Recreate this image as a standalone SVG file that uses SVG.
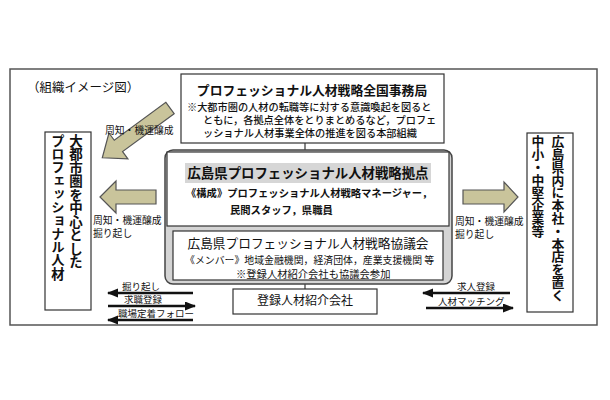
<svg xmlns="http://www.w3.org/2000/svg" width="610" height="400" viewBox="0 0 610 400">
<defs>
<style>
text{font-family:"Noto Sans CJK JP","Liberation Sans",sans-serif;fill:#111}
.b{font-weight:bold}
.box{fill:#fff;stroke:#333;stroke-width:1.2}
.fat{fill:#c9c49b;stroke:#555;stroke-width:1.2}
.thin{stroke:#111;stroke-width:2.5;fill:none}
.conn{stroke:#333;stroke-width:1.2}
.vt{writing-mode:vertical-rl;font-weight:bold;dominant-baseline:central}
</style>
<marker id="ah" markerUnits="userSpaceOnUse" markerWidth="11" markerHeight="10" refX="10" refY="4.5" orient="auto">
<path d="M0,0 L11,4.5 L0,9 z" fill="#111"/>
</marker>
</defs>
<rect width="610" height="400" fill="#fff"/>
<rect x="10" y="69" width="587" height="256" fill="none" stroke="#555" stroke-width="1.5"/>
<text x="27" y="92" font-size="12.5">（組織イメージ図）</text>

<g id="connectors">
<line class="conn" x1="305" y1="143" x2="305" y2="152"/>
<line class="conn" x1="305" y1="280" x2="305" y2="289"/>
<path class="fat" d="M0,-7 L64,-7 L64,-16 L84,0 L64,16 L64,7 L0,7 Z" transform="translate(170,108) rotate(143.7)"/>
<path class="fat" d="M100,197 L116,181 L116,190 L156,190 L156,204 L116,204 L116,213 Z"/>
<path class="fat" d="M463,190 L504,190 L504,182 L518,197 L504,212 L504,204 L463,204 Z"/>
<line class="thin" x1="193" y1="293" x2="108" y2="293" marker-end="url(#ah)"/>
<line class="thin" x1="108" y1="306" x2="195" y2="306" marker-end="url(#ah)"/>
<line class="thin" x1="193" y1="320" x2="108" y2="320" marker-end="url(#ah)"/>
<line class="thin" x1="510" y1="293" x2="423" y2="293" marker-end="url(#ah)"/>
<line class="thin" x1="426" y1="308" x2="513" y2="308" marker-end="url(#ah)"/>
</g>

<g id="labels">
<text x="105" y="134" font-size="9.8">周知・機運醸成</text>
<text x="93" y="224" font-size="9.8">周知・機運醸成・</text>
<text x="93" y="237" font-size="9.8">掘り起し</text>
<text x="455" y="225" font-size="9.8">周知・機運醸成・</text>
<text x="455" y="238" font-size="9.8">掘り起し</text>
<text x="122" y="290" font-size="9.5">掘り起し</text>
<text x="124" y="303" font-size="9.5">求職登録</text>
<text x="118" y="317" font-size="9.5">職場定着フォロー</text>
<text x="457" y="290" font-size="9.5">求人登録</text>
<text x="438" y="305" font-size="9.5">人材マッチング</text>
</g>

<g id="hq">
<rect class="box" x="181" y="74" width="263" height="69"/>
<text class="b" x="312" y="95" font-size="12.8" text-anchor="middle">プロフェッショナル人材戦略全国事務局</text>
<text x="187" y="111" font-size="10.2" font-weight="500">※大都市圏の人材の転職等に対する意識喚起を図ると</text>
<text x="203" y="124" font-size="10.2" font-weight="500">ともに，各拠点全体をとりまとめるなど，プロフェ</text>
<text x="203" y="137" font-size="10.2" font-weight="500">ッショナル人材事業全体の推進を図る本部組織</text>
</g>

<g id="hub">
<rect x="165" y="150" width="287" height="134" rx="8" fill="#d4d4d4" stroke="#444" stroke-width="1.5"/>
<rect class="box" x="167" y="152" width="282" height="74"/>
<rect x="185" y="163" width="246" height="20" fill="#d6d6d6"/>
<text class="b" x="308" y="178" font-size="13.4" text-anchor="middle">広島県プロフェッショナル人材戦略拠点</text>
<text class="b" x="186" y="197" font-size="10.3">《構成》プロフェッショナル人材戦略マネージャー，</text>
<text class="b" x="230" y="214" font-size="10.3">民間スタッフ，県職員</text>
</g>

<g id="council">
<rect class="box" x="173" y="231" width="270" height="49"/>
<text x="308" y="248" font-size="12.7" text-anchor="middle">広島県プロフェッショナル人材戦略協議会</text>
<text x="185" y="264" font-size="9.9">《メンバー》地域金融機関，経済団体，産業支援機関 等</text>
<text x="236" y="278" font-size="10.3">※登録人材紹介会社も協議会参加</text>
</g>

<g id="agency">
<rect class="box" x="233" y="289" width="144" height="25"/>
<text x="305" y="305" font-size="12" text-anchor="middle">登録人材紹介会社</text>
</g>

<g id="talent">
<rect class="box" x="45" y="132" width="46" height="178"/>
<text class="vt" x="76" y="134" font-size="13.5">大都市圏を中心とした</text>
<text class="vt" x="58" y="134" font-size="13.3">プロフェッショナル人材</text>
</g>

<g id="companies">
<rect class="box" x="527" y="133" width="46" height="179"/>
<text class="vt" x="558" y="135" font-size="12.8">広島県内に本社・本店を置く</text>
<text class="vt" x="538" y="135" font-size="12.8">中小・中堅企業等</text>
</g>
</svg>
